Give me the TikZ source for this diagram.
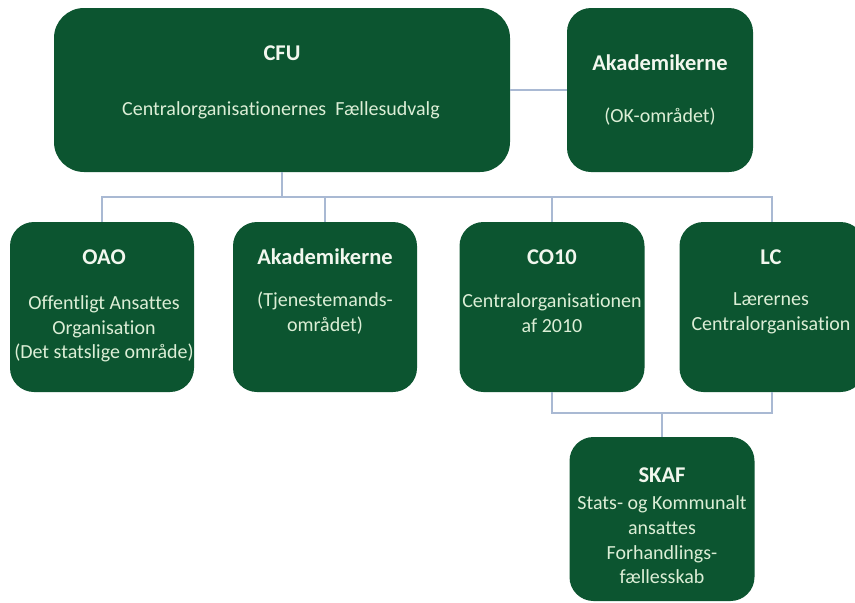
\documentclass[tikz,border=0pt]{standalone}
\usepackage{fontspec}
\setmainfont[Ligatures=NoCommon]{Carlito}
\definecolor{boxgreen}{HTML}{0C5530}
\definecolor{titletext}{HTML}{F2F7EE}
\definecolor{bodytext}{HTML}{DCEED6}
\definecolor{linecol}{HTML}{A9B9D3}
\tikzset{
  orgbox/.style={draw=none, fill=boxgreen, rounded corners=24pt, inner sep=0pt},
  titletxt/.style={text=titletext, font=\fontsize{22.5}{27}\selectfont\bfseries, inner sep=0pt},
  bodytxt/.style={text=bodytext, font=\fontsize{20}{24.6}\selectfont, inner sep=0pt, align=center},
  conn/.style={draw=linecol, line width=1.3pt}
}
\begin{document}
\begin{tikzpicture}[x=1pt,y=-1pt]
\useasboundingbox (0,0) rectangle (855,603);
\clip (0,0) rectangle (855,603);
\fill[white] (0,0) rectangle (855,603);
% boxes
\node[orgbox, rounded corners=30pt, minimum width=456pt, minimum height=164pt] (cfu) at (282,90) {};
\node[orgbox, minimum width=186pt, minimum height=164pt] (akt) at (660,90) {};
\node[orgbox, minimum width=184pt, minimum height=170pt] (oao) at (102,307) {};
\node[orgbox, minimum width=184pt, minimum height=170pt] (aka) at (325,307) {};
\node[orgbox, minimum width=185pt, minimum height=170pt] (co10) at (552,307) {};
\node[orgbox, minimum width=185pt, minimum height=170pt] (lc) at (772,307) {};
\node[orgbox, minimum width=185pt, minimum height=164pt] (skaf) at (662,519) {};
% connector junctions
\coordinate (bus) at (282,197);
\coordinate (jn) at (662,413);
% connectors
\draw[conn] (cfu.east) -- (akt.west);
\draw[conn] (cfu.south) -- (bus);
\draw[conn] (oao.north) |- (bus) -| (lc.north);
\draw[conn] (aka.north) -- (aka.north |- bus);
\draw[conn] (co10.north) -- (co10.north |- bus);
\draw[conn] (co10.south) |- (jn) -| (lc.south);
\draw[conn] (jn) -- (skaf.north);
% texts
\node[titletxt] (cfuT) at (282,53) {CFU};
\node[bodytxt] (cfuB) at (281,110) {Centralorganisationernes\ \ Fællesudvalg};
\node[titletxt] (aktT) at (660,63) {Akademikerne};
\node[bodytxt] (aktB) at (660,117) {(OK-området)};
\node[titletxt] (oaoT) at (104,257) {OAO};
\node[bodytxt] (oaoB) at (104,329) {Offentligt Ansattes\\Organisation\\(Det statslige område)};
\node[titletxt] (akaT) at (325,257) {Akademikerne};
\node[bodytxt] (akaB) at (325,313) {(Tjenestemands-\\området)};
\node[titletxt] (co10T) at (552,257) {CO10};
\node[bodytxt] (co10B) at (552,313) {Centralorganisationen\\af 2010};
\node[titletxt] (lcT) at (771,257) {LC};
\node[bodytxt] (lcB) at (771,313) {Lærernes\\Centralorganisation};
\node[titletxt] (skafT) at (662,475) {SKAF};
\node[bodytxt] (skafB) at (662,540) {Stats- og Kommunalt\\ansattes\\Forhandlings-\\fællesskab};
\end{tikzpicture}
\end{document}
